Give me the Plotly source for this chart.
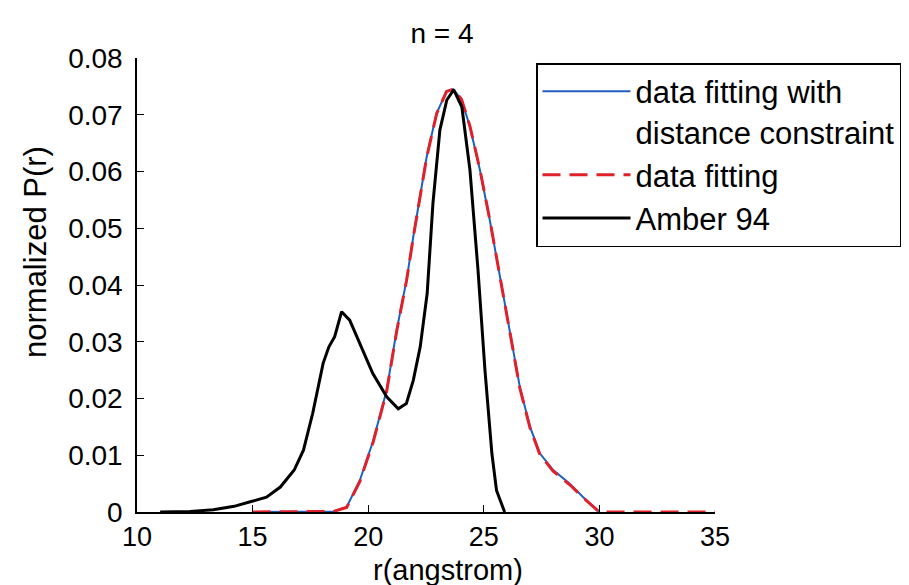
import plotly.graph_objects as go

# Amber 94 simulated distribution
amber_r = [11.0, 12.3, 13.3, 14.2, 14.9, 15.6, 16.2, 16.8, 17.2, 17.6, 18.05, 18.3, 18.55,
           18.85, 19.2, 19.7, 20.2, 20.8, 21.3, 21.65, 21.95, 22.25, 22.55, 22.8, 23.1,
           23.4, 23.7, 24.05, 24.4, 24.75, 25.05, 25.35, 25.55, 25.9]
amber_p = [0.0, 0.0001, 0.0004, 0.001, 0.0018, 0.0026, 0.0044, 0.0074, 0.0109, 0.0174,
           0.0262, 0.0291, 0.0309, 0.0353, 0.0338, 0.0291, 0.0244, 0.0203, 0.0182, 0.0191,
           0.0232, 0.0291, 0.0385, 0.0544, 0.0673, 0.0726, 0.0744, 0.0714, 0.0603, 0.0426,
           0.025, 0.0103, 0.0038, 0.0]

# data fitting with distance constraint
fitc_r = [15, 16, 17, 18, 18.5, 19.07, 19.64, 20.22, 20.8, 21.23, 21.66, 21.95, 22.53,
          22.96, 23.39, 23.68, 24.04, 24.4, 24.83, 25.26, 25.7, 26.13, 26.56, 27.0, 27.43,
          28.0, 28.72, 29.3, 30.0]
fitc_p = [0, 0, 0, 0, 0.0001, 0.0009, 0.0056, 0.0126, 0.0215, 0.0320, 0.0409, 0.0485,
          0.0626, 0.0703, 0.0741, 0.0745, 0.0726, 0.0679, 0.0603, 0.0514, 0.0414, 0.032,
          0.022, 0.015, 0.0103, 0.0074, 0.005, 0.0026, 0.0]

# data fitting (no constraint)
fit_r = fitc_r + [31, 32, 33, 34, 35]
fit_p = [0, 0, 0, 0, 0.0001, 0.0008, 0.0054, 0.0124, 0.0213, 0.0318, 0.0408, 0.0484,
         0.0625, 0.0702, 0.0741, 0.0745, 0.0727, 0.0680, 0.0604, 0.0515, 0.0414, 0.0318,
         0.0218, 0.0148, 0.0101, 0.0072, 0.0048, 0.0025, 0.0] + [0, 0, 0, 0, 0]

x_ticks = [10, 15, 20, 25, 30, 35]
y_ticks = [0, 0.01, 0.02, 0.03, 0.04, 0.05, 0.06, 0.07, 0.08]
y_labels = ["0", "0.01", "0.02", "0.03", "0.04", "0.05", "0.06", "0.07", "0.08"]

FONT = "Liberation Sans, Arial, sans-serif"

# page body has an 8px margin, so the figure is sized to fit the visible window
W, H = 901, 577
L, R, T, B = 129, 194, 50, 73
PW, PH = W - L - R, H - T - B

fig = go.Figure()
fig.add_trace(go.Scatter(x=fitc_r, y=fitc_p, mode="lines",
                         name="data fitting with<br>distance constraint",
                         line=dict(color="#1f5fc0", width=2)))
fig.add_trace(go.Scatter(x=fit_r, y=fit_p, mode="lines", name="data fitting",
                         line=dict(color="#e0202a", width=3, dash="18px,9px")))
fig.add_trace(go.Scatter(x=amber_r, y=amber_p, mode="lines", name="Amber 94",
                         line=dict(color="black", width=3)))

fig.update_layout(
    width=W, height=H,
    margin=dict(l=L, r=R, t=T, b=B, autoexpand=False),
    paper_bgcolor="white", plot_bgcolor="white",
    font=dict(family=FONT, size=28, color="black"),
    title=dict(text="n = 4", x=434 / W, xanchor="center",
               y=1 - 25 / H, yanchor="middle", font=dict(size=28)),
    legend=dict(x=(528 - L) / PW, y=(H - B - 55) / PH, xanchor="left", yanchor="top",
                bordercolor="black", borderwidth=1.5, bgcolor="white",
                font=dict(size=31), tracegroupgap=0, itemwidth=88, valign="top"),
    showlegend=True,
    annotations=[
        dict(text="r(angstrom)", xref="paper", yref="paper",
             x=(440 - L) / PW, y=(H - B - 562) / PH, xanchor="center", yanchor="middle",
             showarrow=False, font=dict(size=29)),
        dict(text="normalized P(r)", xref="paper", yref="paper", textangle=-90,
             x=(27 - L) / PW, y=(H - B - 244) / PH, xanchor="center", yanchor="middle",
             showarrow=False, font=dict(size=31)),
    ],
)
fig.update_xaxes(range=[10, 35], tickvals=x_ticks, ticks="inside", ticklen=7,
                 tickcolor="black", showline=True, linecolor="black", linewidth=1.5,
                 showgrid=False, zeroline=False, ticklabelstandoff=0,
                 tickfont=dict(size=27))
fig.update_yaxes(range=[0, 0.08], tickvals=y_ticks, ticktext=y_labels, ticks="inside",
                 ticklen=7, tickcolor="black", showline=True, linecolor="black",
                 linewidth=1.5, showgrid=False, zeroline=False, ticklabelstandoff=7)

fig.write_html("out.html")
